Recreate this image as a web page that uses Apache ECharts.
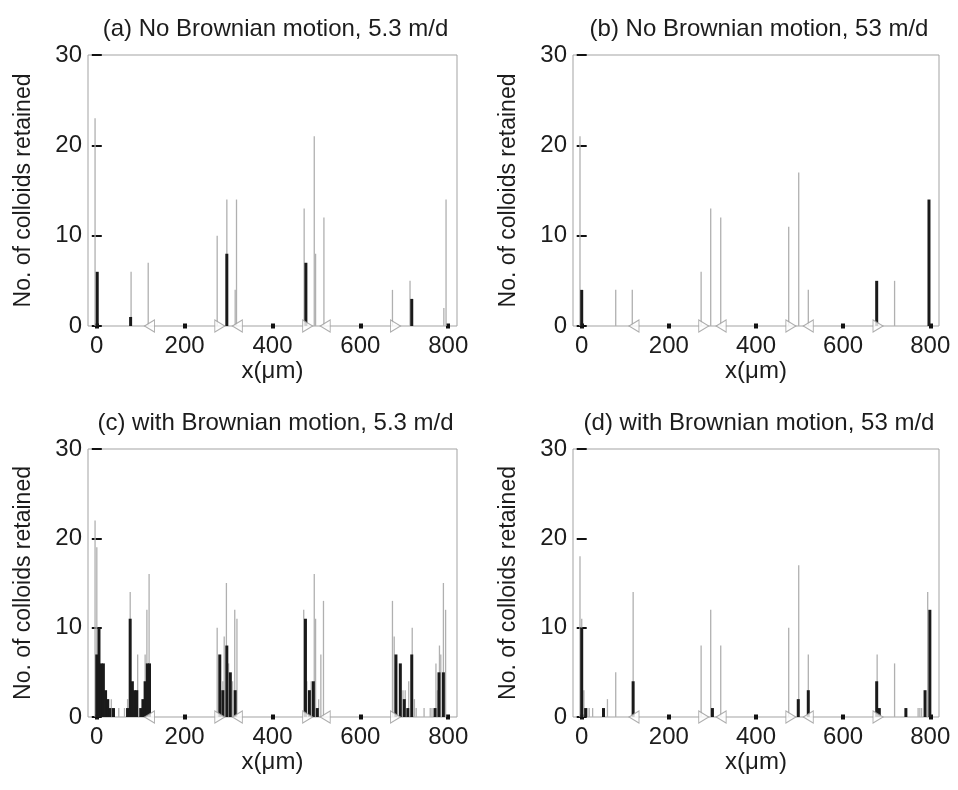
<!DOCTYPE html>
<html>
<head>
<meta charset="utf-8">
<script src="https://cdn.jsdelivr.net/npm/echarts@6/dist/echarts.min.js"></script>
<style>
  html, body { margin: 0; padding: 0; background: #fff; }
  #chart { width: 958px; height: 790px; }
</style>
</head>
<body>
<div id="chart"></div>
<script>
// tick labels and the injector markers on the baseline
const xTicks = [0, 200, 400, 600, 800];
const yTicks = [0, 10, 20, 30];
const leftMarks = [120, 320, 520];
const rightMarks = [280, 480, 680];

const titles = [
  '(a) No Brownian motion, 5.3 m/d',
  '(b) No Brownian motion, 53 m/d',
  '(c) with Brownian motion, 5.3 m/d',
  '(d) with Brownian motion, 53 m/d'
];

// [x (um), no. of colloids]
const grayA = [[-2, 23], [80, 6], [119, 7], [276, 10], [298, 14], [317, 4], [320, 14], [474, 13],
  [497, 21], [500, 8], [519, 12], [675, 4], [715, 5], [792, 2], [797, 14]];
const blackA = [[1, 6], [77, 1], [296, 8], [476, 7], [717, 3]];

const grayB = [[-2, 21], [80, 4], [118, 4], [276, 6], [298, 13], [321, 12], [477, 11], [500, 17],
  [522, 4], [720, 5]];
const blackB = [[0, 4], [677, 5], [797, 14]];

const grayC = [[-2, 22], [2, 19], [28, 2], [35, 2], [52, 1], [65, 1], [72, 2], [78, 14], [95, 7],
  [112, 7], [116, 12], [121, 16],
  [276, 10], [289, 4], [292, 9], [297, 15], [302, 6], [311, 4], [316, 12], [321, 11],
  [473, 12], [480, 4], [490, 4], [497, 16], [500, 11], [507, 2], [512, 7], [518, 13],
  [675, 13], [679, 9], [699, 3], [704, 3], [712, 4], [720, 10], [725, 2], [729, 1], [747, 1],
  [761, 1], [765, 1], [774, 6], [777, 3], [782, 8], [785, 7], [791, 15], [796, 12]];
const blackC = [[0, 7], [5, 10], [10, 6], [15, 6], [20, 3], [25, 2], [30, 1], [38, 1],
  [70, 1], [76, 11], [81, 4], [86, 3], [91, 3], [100, 1], [105, 2], [110, 4], [115, 6], [120, 6],
  [280, 7], [287, 3], [296, 8], [304, 5], [315, 3],
  [475, 11], [484, 3], [493, 4], [502, 1],
  [681, 7], [691, 6], [700, 2], [708, 1], [717, 7], [770, 1], [779, 5], [789, 5]];

const grayD = [[-2, 18], [2, 11], [7, 3], [14, 1], [19, 1], [27, 1], [61, 2], [80, 5], [120, 14],
  [276, 8], [298, 12], [321, 8], [477, 10], [500, 17], [522, 7], [680, 7], [720, 6],
  [774, 1], [778, 1], [782, 1], [796, 14]];
const blackD = [[0, 10], [9, 1], [50, 1], [118, 4], [300, 1], [497, 2], [520, 3], [677, 4],
  [683, 1], [744, 1], [788, 3], [799, 12]];

const font = "'Liberation Sans', Arial, Helvetica, sans-serif";
const ink = '#1c1c1c';
const boxColor = '#a3a3a3';

const panels = [
  { title: titles[0], gray: grayA, black: blackA, left: 88, top: 55, width: 369, height: 271 },
  { title: titles[1], gray: grayB, black: blackB, left: 573, top: 55, width: 366, height: 271 },
  { title: titles[2], gray: grayC, black: blackC, left: 88, top: 449, width: 369, height: 268 },
  { title: titles[3], gray: grayD, black: blackD, left: 573, top: 449, width: 366, height: 268 }
];

const option = {
  animation: false,
  backgroundColor: '#fff',
  title: [],
  grid: [],
  xAxis: [],
  yAxis: [],
  series: []
};

const tickStyle = { color: '#111', width: 2 };

panels.forEach((p, i) => {
  option.grid.push({
    left: p.left, top: p.top, width: p.width, height: p.height,
    show: true, borderColor: boxColor, borderWidth: 1, backgroundColor: 'transparent'
  });
  option.title.push({
    text: p.title,
    left: p.left + p.width / 2 - 2,
    top: p.top - 43,
    textAlign: 'center',
    textStyle: { fontFamily: font, fontSize: 24, fontWeight: 'normal', color: ink }
  });

  // bottom and top x axes (top one only carries ticks)
  option.xAxis.push({
    type: 'value', gridIndex: i, min: -20, max: 820, position: 'bottom',
    axisLine: { show: false }, splitLine: { show: false },
    axisTick: { show: true, inside: true, length: 2.5, customValues: xTicks, lineStyle: { color: '#111', width: 4 } },
    axisLabel: { customValues: xTicks, margin: 8, fontFamily: font, fontSize: 24, color: ink },
    name: 'x(\u03bcm)', nameLocation: 'middle', nameGap: 30,
    nameTextStyle: { fontFamily: font, fontSize: 24, color: ink }
  });
  option.xAxis.push({
    type: 'value', gridIndex: i, min: -20, max: 820, position: 'top',
    axisLine: { show: false }, splitLine: { show: false },
    axisTick: { show: true, inside: true, length: 2.5, customValues: xTicks, lineStyle: { color: '#111', width: 4 } },
    axisLabel: { show: false }
  });

  // left and right y axes
  option.yAxis.push({
    type: 'value', gridIndex: i, min: 0, max: 30, interval: 10, position: 'left',
    axisLine: { show: false }, splitLine: { show: false },
    axisTick: { show: true, inside: true, length: 5, lineStyle: tickStyle },
    axisLabel: { margin: 6, fontFamily: font, fontSize: 24, color: ink },
    name: 'No. of colloids retained', nameLocation: 'middle', nameGap: 53,
    nameTextStyle: { fontFamily: font, fontSize: 23, color: ink }
  });
  option.yAxis.push({
    type: 'value', gridIndex: i, min: 0, max: 30, interval: 10, position: 'right',
    axisLine: { show: false }, splitLine: { show: false },
    axisTick: { show: true, inside: true, length: 5, lineStyle: tickStyle },
    axisLabel: { show: false }
  });

  const xi = 2 * i;
  const yi = 2 * i;
  option.series.push({
    type: 'bar', xAxisIndex: xi, yAxisIndex: yi, data: p.gray,
    barWidth: 1.3, barGap: '-100%', itemStyle: { color: '#b0b0b0' }, z: 2
  });
  option.series.push({
    type: 'bar', xAxisIndex: xi, yAxisIndex: yi, data: p.black,
    barWidth: 3, barGap: '-100%', itemStyle: { color: '#1a1a1a' }, z: 3
  });
  option.series.push({
    type: 'scatter', xAxisIndex: xi, yAxisIndex: yi, clip: false,
    data: leftMarks.map((x) => [x, 0]),
    symbol: 'triangle', symbolSize: [12, 10], symbolRotate: 90,
    itemStyle: { color: '#fff', borderColor: '#9a9a9a', borderWidth: 1 }, z: 4
  });
  option.series.push({
    type: 'scatter', xAxisIndex: xi, yAxisIndex: yi, clip: false,
    data: rightMarks.map((x) => [x, 0]),
    symbol: 'triangle', symbolSize: [12, 10], symbolRotate: -90,
    itemStyle: { color: '#fff', borderColor: '#9a9a9a', borderWidth: 1 }, z: 4
  });
});

const chart = echarts.init(document.getElementById('chart'), null, { renderer: 'canvas' });
chart.setOption(option);
</script>
</body>
</html>
